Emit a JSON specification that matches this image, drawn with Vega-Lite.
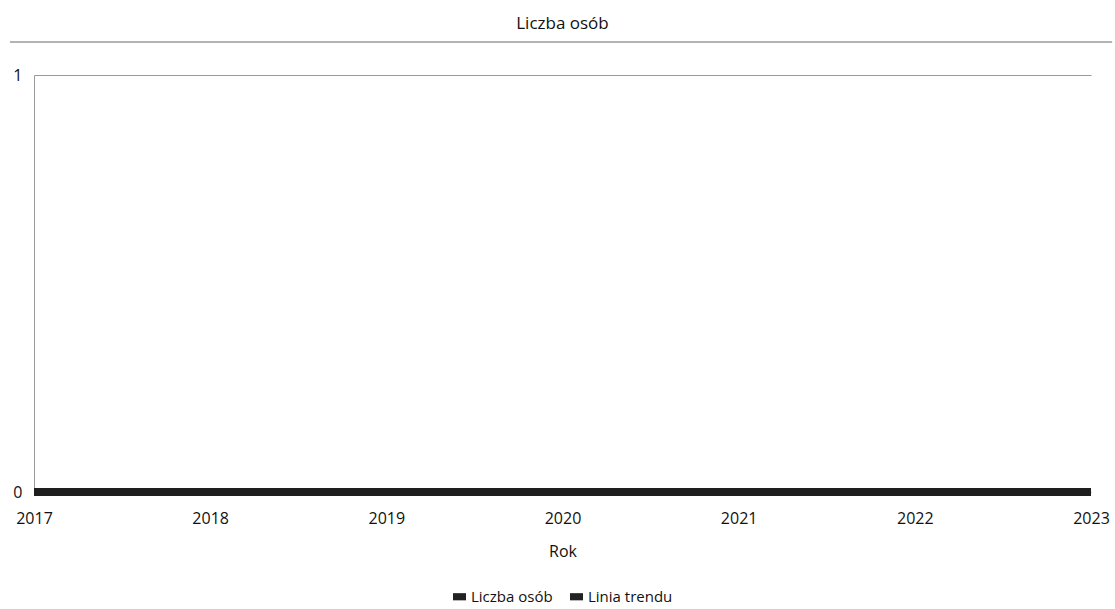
{
  "$schema": "https://vega.github.io/schema/vega-lite/v6.json",
  "width": 1115,
  "height": 609,
  "autosize": {"type": "fit", "contains": "padding"},
  "padding": {"left": 7, "right": 0, "top": 0, "bottom": 4},
  "background": "#ffffff",
  "config": {
    "font": "Open Sans",
    "view": {"stroke": null},
    "legend": {"layout": {"bottom": {"anchor": "middle"}}}
  },
  "title": {
    "text": "Liczba osób",
    "fontSize": 17,
    "fontWeight": "normal",
    "color": "#111111",
    "offset": 8
  },
  "datasets": {
    "serie": [
      {"Rok": 2017, "seria": "Liczba osób", "wartosc": 0},
      {"Rok": 2018, "seria": "Liczba osób", "wartosc": 0},
      {"Rok": 2019, "seria": "Liczba osób", "wartosc": 0},
      {"Rok": 2020, "seria": "Liczba osób", "wartosc": 0},
      {"Rok": 2021, "seria": "Liczba osób", "wartosc": 0},
      {"Rok": 2022, "seria": "Liczba osób", "wartosc": 0},
      {"Rok": 2023, "seria": "Liczba osób", "wartosc": 0},
      {"Rok": 2017, "seria": "Linia trendu", "wartosc": 0},
      {"Rok": 2018, "seria": "Linia trendu", "wartosc": 0},
      {"Rok": 2019, "seria": "Linia trendu", "wartosc": 0},
      {"Rok": 2020, "seria": "Linia trendu", "wartosc": 0},
      {"Rok": 2021, "seria": "Linia trendu", "wartosc": 0},
      {"Rok": 2022, "seria": "Linia trendu", "wartosc": 0},
      {"Rok": 2023, "seria": "Linia trendu", "wartosc": 0}
    ]
  },
  "layer": [
    {
      "data": {"values": [{"y": 1.079, "x1": 2016.864, "x2": 2023.12}]},
      "mark": {"type": "rule", "color": "#9a9a9a", "strokeWidth": 1.5, "clip": false},
      "encoding": {
        "y": {"field": "y", "type": "quantitative"},
        "x": {"field": "x1", "type": "quantitative"},
        "x2": {"field": "x2"}
      }
    },
    {
      "data": {"name": "serie"},
      "mark": {"type": "line", "strokeWidth": 8, "strokeCap": "butt"},
      "encoding": {
        "x": {
          "field": "Rok",
          "type": "quantitative",
          "scale": {"domain": [2017, 2023], "nice": false, "zero": false},
          "axis": {
            "title": "Rok",
            "titleFontSize": 16,
            "titleFontWeight": "normal",
            "titleColor": "#111111",
            "titlePadding": 17,
            "values": [2017, 2018, 2019, 2020, 2021, 2022, 2023],
            "format": "d",
            "labelFontSize": 16,
            "labelColor": "#111111",
            "labelPadding": 18,
            "labelFlush": false,
            "ticks": false,
            "grid": false,
            "domain": false
          }
        },
        "y": {
          "field": "wartosc",
          "type": "quantitative",
          "scale": {"domain": [0, 1], "nice": false},
          "axis": {
            "title": null,
            "values": [0, 1],
            "format": "d",
            "labelFontSize": 16,
            "labelColor": "#111111",
            "labelPadding": 12,
            "ticks": false,
            "grid": true,
            "gridColor": "#9a9a9a",
            "gridWidth": 1,
            "domain": true,
            "domainColor": "#9a9a9a",
            "domainWidth": 1
          }
        },
        "color": {
          "field": "seria",
          "type": "nominal",
          "scale": {"domain": ["Liczba osób", "Linia trendu"], "range": ["#2a2a2a", "#1e1e1e"]},
          "legend": {
            "title": null,
            "orient": "bottom",
            "direction": "horizontal",
            "labelFontSize": 15,
            "labelColor": "#111111",
            "symbolType": "M-1,-0.55H1V0.55H-1Z",
            "symbolSize": 170,
            "columnPadding": 16,
            "labelOffset": 4,
            "offset": 30,
            "encode": {
              "symbols": {
                "update": {
                  "fill": {"value": "#222222"},
                  "stroke": {"value": "#222222"},
                  "strokeWidth": {"value": 0}
                }
              }
            }
          }
        }
      }
    }
  ]
}
